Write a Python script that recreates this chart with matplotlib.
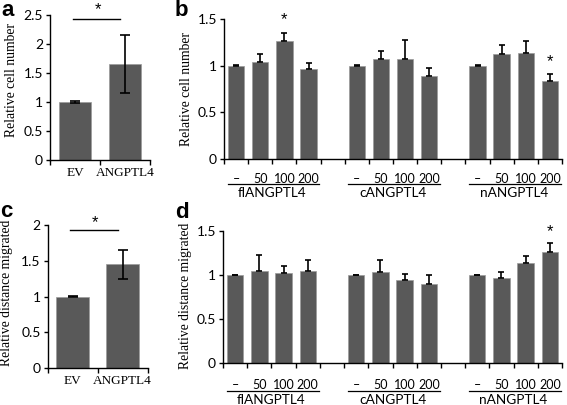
import numpy as np
import matplotlib
matplotlib.use("Agg")
import matplotlib.pyplot as plt
from matplotlib.transforms import blended_transform_factory

# panel a / c : EV vs ANGPTL4
ac_labels = ["EV", "ANGPTL4"]
a_vals = [1.0, 1.65]
a_err = [0.01, 0.50]
c_vals = [1.0, 1.45]
c_err = [0.01, 0.205]

# panel b / d : dose series per construct
doses = ["\u2013", "50", "100", "200"]
groups = ["flANGPTL4", "cANGPTL4", "nANGPTL4"]
b_vals = [1.00, 1.04, 1.26, 0.96, 1.00, 1.07, 1.07, 0.89, 1.00, 1.125, 1.135, 0.836]
b_err = [0.005, 0.09, 0.085, 0.07, 0.005, 0.085, 0.21, 0.088, 0.005, 0.095, 0.125, 0.075]
d_vals = [1.00, 1.045, 1.02, 1.045, 1.00, 1.03, 0.94, 0.90, 1.00, 0.97, 1.14, 1.26]
d_err = [0.005, 0.185, 0.08, 0.125, 0.005, 0.14, 0.07, 0.10, 0.005, 0.06, 0.08, 0.10]
b_stars = [2, 11]
d_stars = [11]

W, H = 567, 405
BAR = "#595959"
SERIF = "Liberation Serif"
SANS = "Lato"
YLAB = 9.8

fig = plt.figure(figsize=(W / 100, H / 100), dpi=100)


def box(l, r, t, b):
   return [l / W, 1 - b / H, (r - l) / W, (b - t) / H]


def style(ax, ymax, yticks, nslots):
   ax.set_ylim(0, ymax)
   ax.set_xlim(-0.5, nslots - 0.5)
   for s in ("top", "right"):
      ax.spines[s].set_visible(False)
   for s in ("left", "bottom"):
      ax.spines[s].set_linewidth(1.0)
   ax.set_yticks(yticks)
   ax.set_yticklabels([("%g" % v) for v in yticks], fontfamily=SANS, fontsize=10)
   ax.tick_params(axis="y", direction="out", length=3, width=1, pad=2)
   ax.set_xticks(np.arange(nslots + 1) - 0.5)
   ax.set_xticklabels([])
   ax.tick_params(axis="x", direction="out", length=3.5, width=1)


def simple_panel(rect, vals, err, ymax, yticks, ylabel, ylab_xy, lab_y, sig_y, star_y):
   ax = fig.add_axes(rect)
   x = np.arange(len(vals))
   ax.bar(x, vals, width=0.65, color=BAR, edgecolor="#9a9a9a", linewidth=0.5, zorder=2)
   ax.errorbar(x, vals, yerr=err, fmt="none", ecolor="black", elinewidth=1.2,
               capsize=3.5, capthick=1.2, zorder=3)
   style(ax, ymax, yticks, len(vals))
   tr = blended_transform_factory(ax.transData, fig.transFigure)
   for xi, lab in zip(x, ac_labels):
      ax.text(xi, 1 - lab_y / H, lab, transform=tr, ha="center", va="center",
              fontfamily=SERIF, fontsize=9.5)
   ax.plot([-0.05, 0.9], [sig_y, sig_y], color="black", lw=1.0, clip_on=False)
   ax.text(0.45, star_y, "*", ha="center", va="center", fontsize=12,
           fontfamily="Liberation Sans", clip_on=False)
   fig.text(ylab_xy[0] / W, 1 - ylab_xy[1] / H, ylabel, rotation=90, ha="center",
            va="center", fontfamily=SERIF, fontsize=YLAB)
   return ax


def dose_panel(rect, vals, err, stars, star_y, ymax, yticks, ylabel, ylab_xy, ys):
   ax = fig.add_axes(rect)
   x = np.array([g * 5 + i for g in range(len(groups)) for i in range(len(doses))])
   ax.bar(x, vals, width=0.68, color=BAR, edgecolor="#9a9a9a", linewidth=0.5, zorder=2)
   ax.errorbar(x, vals, yerr=[np.zeros(len(err)), err], fmt="none", ecolor="black",
               elinewidth=1.2, capsize=2.5, capthick=1.2, zorder=3)
   style(ax, ymax, yticks, 14)
   for i in stars:
      ax.text(x[i], star_y[stars.index(i)], "*", ha="center", va="center", fontsize=12,
              fontfamily="Liberation Sans", clip_on=False)
   tr = blended_transform_factory(ax.transData, fig.transFigure)
   lab_y, line_y, name_y = ys
   for g, name in enumerate(groups):
      for i, d in enumerate(doses):
         ax.text(g * 5 + i, 1 - lab_y / H, d, transform=tr, ha="center", va="center",
                 fontfamily=SANS, fontsize=9)
      ax.plot([g * 5 - 0.35, g * 5 + 3.45], [1 - line_y / H] * 2, transform=tr,
              color="black", lw=0.9, clip_on=False)
      ax.text(g * 5 + 1.5, 1 - name_y / H, name, transform=tr, ha="center", va="center",
              fontfamily=SANS, fontsize=9.8)
   fig.text(ylab_xy[0] / W, 1 - ylab_xy[1] / H, ylabel, rotation=90, ha="center",
            va="center", fontfamily=SERIF, fontsize=YLAB)
   return ax


simple_panel(box(50, 150, 15, 160), a_vals, a_err, 2.5, [0, 0.5, 1, 1.5, 2, 2.5],
             "Relative cell number", (12, 80), 173, 2.43, 2.6)
simple_panel(box(47.5, 147.5, 225, 368.3), c_vals, c_err, 2.0, [0, 0.5, 1, 1.5, 2],
             "Relative distance migrated", (7, 293), 381.5, 1.93, 2.04)
dose_panel(box(224, 562, 19, 159), b_vals, b_err, b_stars, [1.49, 1.045], 1.5,
           [0, 0.5, 1, 1.5], "Relative cell number", (187, 89), (179.3, 184.3, 193))
dose_panel(box(223, 562, 231, 363.3), d_vals, d_err, d_stars, [1.49], 1.5,
           [0, 0.5, 1, 1.5], "Relative distance migrated", (186, 296), (385, 391, 400.5))

for lab, px, py in [("a", 1, 10), ("b", 175, 10), ("c", 0, 211), ("d", 175, 213)]:
   fig.text(px / W, 1 - py / H, lab, ha="left", va="center", fontsize=16,
            fontweight="bold", fontfamily="Liberation Sans")

plt.savefig("out.png", dpi=100)
